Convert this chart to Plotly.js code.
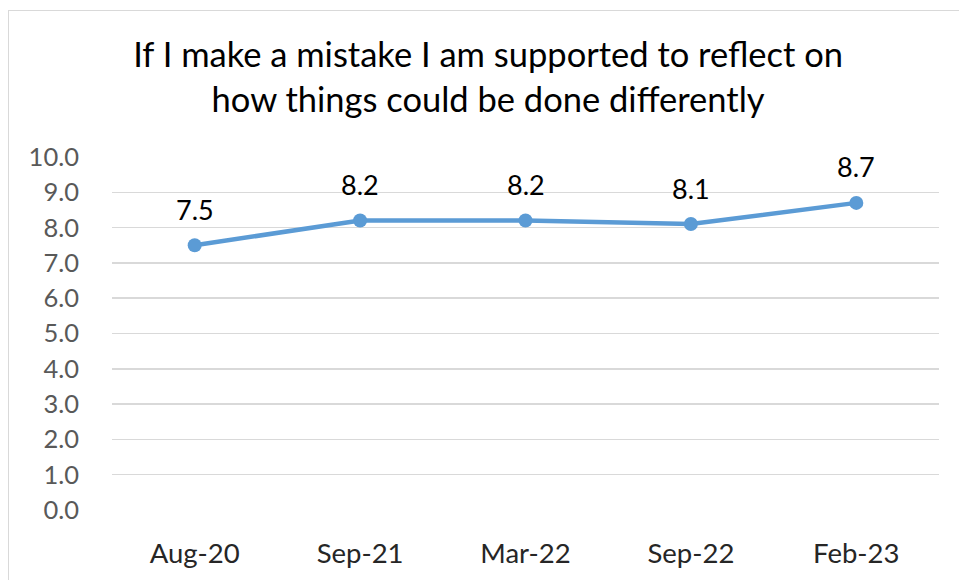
<!DOCTYPE html>
<html><head><meta charset="utf-8">
<script src="https://cdn.plot.ly/plotly-3.0.1.min.js"></script>
<style>
html,body{margin:0;padding:0;background:#fff;}
#wrap{position:relative;width:959px;height:580px;overflow:hidden;}
#chart{position:absolute;left:0;top:0;width:959px;height:580px;}
#frame{position:absolute;left:8px;top:10px;width:960px;height:580px;border:1.5px solid #d9d9d9;box-sizing:border-box;pointer-events:none;}
</style></head>
<body><div id="wrap"><div id="chart"></div><div id="frame"></div></div>
<script>
const categories = ["Aug-20", "Sep-21", "Mar-22", "Sep-22", "Feb-23"];
const values = [7.5, 8.2, 8.2, 8.1, 8.7];
const yTicks = [0,1,2,3,4,5,6,7,8,9,10];
const titleText = "If I make a mistake I am supported to reflect on<br>how things could be done differently";

const font = "Lato, 'Open Sans', sans-serif";
const labels = categories.map((c, i) => ({
  x: c, y: values[i], xref: "x", yref: "y", text: values[i].toFixed(1),
  showarrow: false, yshift: 36, font: {family: font, size: 27, color: "#000"}
}));
Plotly.newPlot("chart", [{
  x: categories, y: values, type: "scatter", mode: "lines+markers",
  line: {color: "#5B9BD5", width: 4.5},
  marker: {color: "#5B9BD5", size: 14},
  cliponaxis: false, hoverinfo: "skip"
}], {
  width: 959, height: 580,
  margin: {l: 112, r: 20, t: 157, b: 70},
  paper_bgcolor: "#fff", plot_bgcolor: "#fff",
  showlegend: false,
  annotations: labels,
  title: {text: titleText, font: {family: font, size: 34.5, color: "#000"},
    x: 0.509, xanchor: "center", y: 0.885, yanchor: "middle", yref: "container"},
  xaxis: {type: "category", range: [-0.5, 4.5], showgrid: false, zeroline: false, showline: false,
    ticks: "", tickfont: {family: font, size: 27.5, color: "#262626"}, ticklabelstandoff: 24},
  yaxis: {range: [0, 10], tickvals: yTicks, ticktext: yTicks.map(v => v.toFixed(1)),
    showgrid: true, gridcolor: "#d9d9d9", gridwidth: 1.5, zeroline: false, showline: false,
    ticks: "", tickfont: {family: font, size: 25.5, color: "#595959"}, ticklabelstandoff: 32}
}, {staticPlot: true});
</script></body></html>
